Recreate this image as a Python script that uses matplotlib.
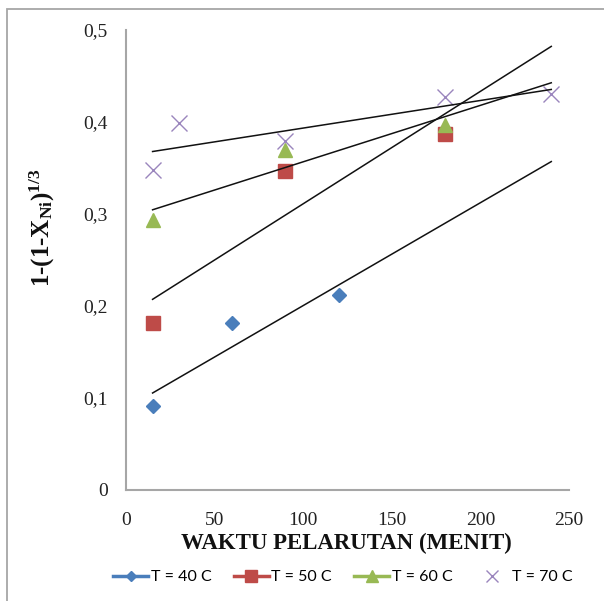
import numpy as np
import matplotlib
matplotlib.use("Agg")
import matplotlib.pyplot as plt
from matplotlib.lines import Line2D
from matplotlib.patches import Rectangle

# Dissolution time (minutes) and conversion function values per temperature
t_40 = [15, 60, 120]
y_40 = [0.091, 0.181, 0.212]
t_50 = [15, 90, 180]
y_50 = [0.181, 0.347, 0.387]
t_60 = [15, 90, 180]
y_60 = [0.294, 0.370, 0.397]
t_70 = [15, 30, 90, 180, 240]
y_70 = [0.348, 0.399, 0.379, 0.4275, 0.430]

series_labels = ["T = 40 C", "T = 50 C", "T = 60 C", "T = 70 C"]
x_ticks = [0, 50, 100, 150, 200, 250]
y_ticks = [0, 0.1, 0.2, 0.3, 0.4, 0.5]
y_tick_labels = ["0", "0,1", "0,2", "0,3", "0,4", "0,5"]
trend_range = [15, 240]

plt.rcParams["mathtext.fontset"] = "custom"
plt.rcParams["mathtext.rm"] = "Liberation Serif:bold"
plt.rcParams["mathtext.bf"] = "Liberation Serif:bold"
plt.rcParams["mathtext.it"] = "Liberation Serif:bold"

W, H = 604, 601
fig = plt.figure(figsize=(W / 100, H / 100), dpi=100)
ax = fig.add_axes([126 / W, 1 - 490 / H, (569 - 126) / W, (490 - 30) / H])

# chart-area frame
fig.patches.append(Rectangle((7 / W, -0.1), 1.2, 1 - 9 / H + 0.1,
                             transform=fig.transFigure, fill=False,
                             edgecolor="#a6a6a6", linewidth=1.3))

colors = ["#4a7ebb", "#be4b48", "#98b954", "#9a85bd"]
styles = [
    dict(marker="D", markersize=7.0),
    dict(marker="s", markersize=9.5),
    dict(marker="^", markersize=10.0),
    dict(marker="x", markersize=11.0, markeredgewidth=1.0),
]
legend_sizes = [5.5, 8.0, 8.0, 9.0]
data = [(t_40, y_40), (t_50, y_50), (t_60, y_60), (t_70, y_70)]

for (tx, ty), c, st in zip(data, colors, styles):
    ax.plot(tx, ty, linestyle="none", color=c, markeredgecolor=c, zorder=3, **st)

# linear trend lines
xs = np.array(trend_range, dtype=float)
for tx, ty in data:
    k, b = np.polyfit(tx, ty, 1)
    ax.plot(xs, k * xs + b, color="#111111", linewidth=1.1, zorder=4)

ax.set_xlim(0, 250)
ax.set_ylim(0, 0.5)
ax.set_xticks(x_ticks)
ax.set_yticks(y_ticks)
ax.set_yticklabels(y_tick_labels)
ax.tick_params(axis="both", length=0, labelsize=14, colors="#222222")
ax.tick_params(axis="x", pad=16)
ax.tick_params(axis="y", pad=13)
for lab in ax.get_xticklabels() + ax.get_yticklabels():
    lab.set_fontfamily("Liberation Serif")
for side in ("top", "right"):
    ax.spines[side].set_visible(False)
for side in ("left", "bottom"):
    ax.spines[side].set_color("#a6a6a6")
    ax.spines[side].set_linewidth(1.5)

fig.text(346 / W, 1 - 543 / H, "WAKTU PELARUTAN (MENIT)", ha="center", va="center",
         fontsize=16.5, fontweight="bold", family="Liberation Serif", color="#111111")
fig.text(42 / W, 1 - 228 / H, r"1-(1-X$_{\mathrm{Ni}}$)$^{\mathrm{1/3}}$", ha="center",
         va="center", rotation=90, fontsize=18, fontweight="bold",
         family="Liberation Serif", color="#111111")

handles = []
for i, (c, st, ms) in enumerate(zip(colors, styles, legend_sizes)):
    ls = "-" if i < 3 else "none"
    kw = dict(st)
    kw["markersize"] = ms
    handles.append(Line2D([], [], color=c, markeredgecolor=c, linestyle=ls,
                          linewidth=2.5, **kw))
fig.legend(handles, series_labels, loc="center", bbox_to_anchor=(343 / W, 1 - 577 / H),
           ncol=4, frameon=False, handlelength=2.2, columnspacing=1.4, handletextpad=0.15,
           prop=dict(family="Lato", size=11.5))

fig.savefig("out.png", dpi=100)
